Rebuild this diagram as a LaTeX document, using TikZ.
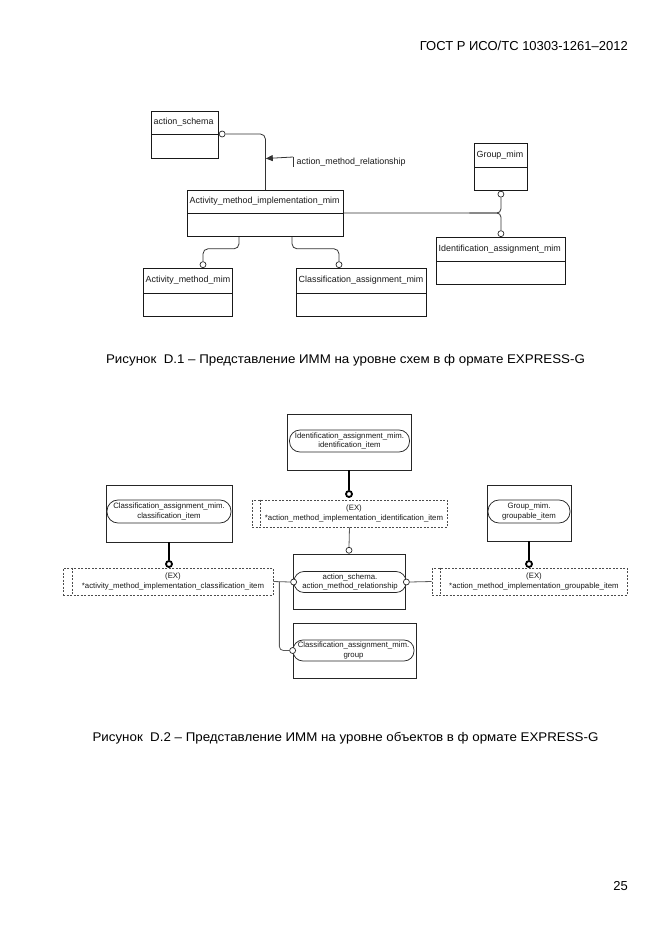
\documentclass[tikz,border=0pt]{standalone}
\usepackage{fontspec}
\usepackage{graphicx}
\setmainfont{Liberation Sans}
\usetikzlibrary{arrows.meta,calc}
\newcommand\fsA{\fontsize{8.9}{10.5}\selectfont}
\newcommand\fsB{\fontsize{7.8}{9.6}\selectfont}
\newcommand\fsC{\fontsize{12.6}{15}\selectfont}
\tikzset{
  entst/.style={draw=black!90, line width=0.8pt, inner sep=0pt, fill=white},
  divst/.style={draw=black!90, line width=0.7pt},
  enttext/.style={font=\fsA, inner sep=0pt, text=black!90},
  conn/.style={draw=black!80, line width=0.8pt},
  ocirc/.style={circle, draw=black!85, line width=0.7pt, fill=white, inner sep=0pt, minimum size=6pt},
  obox/.style={draw=black!85, line width=0.75pt, inner sep=0pt},
  oval/.style={draw=black!85, line width=0.75pt, rounded corners=10.5pt, minimum height=22pt, inner sep=0pt, align=center, font=\fsB, fill=white, text=black!90},
  tline/.style={draw=black, line width=2.2pt},
  tcirc/.style={circle, draw=black, line width=1.8pt, fill=white, inner sep=0pt, minimum size=6pt},
  dbox/.style={draw=black!70, line width=0.7pt, dash pattern=on 2pt off 1.5pt, inner sep=0pt},
  dline/.style={draw=black!70, line width=0.7pt, dash pattern=on 2pt off 1.5pt},
  dtext/.style={font=\fsB, align=center, inner sep=0pt, text=black!90},
  gline/.style={draw=black!65, line width=0.8pt},
  capt/.style={font=\fsC, inner sep=0pt},
}
\newcommand\entbox[7]{%
  \node[entst, minimum width=#4pt, minimum height=#5pt, anchor=north west] (#1) at (#2,#3) {};
  \coordinate (#1dw) at ([yshift=-#6pt]#1.north west);
  \coordinate (#1de) at ([yshift=-#6pt]#1.north east);
  \draw[divst] (#1dw) -- (#1de);
  \node[enttext, anchor=west] (#1t) at ($(#1.north west)!0.5!(#1dw)+(2.5,0)$) {#7};
}
\begin{document}
\begin{tikzpicture}[x=1pt,y=-1pt]
\useasboundingbox (0,0) rectangle (661,935);
% header
\node[anchor=east, inner sep=0pt, font=\fontsize{13}{15}\selectfont] (hdr) at (628,46) {ГОСТ Р ИСО/ТС 10303-1261–2012};
% ---------- Figure D.1 ----------
\entbox{as}{151}{111}{67}{47}{23}{action\_schema}
\entbox{amim}{187}{190}{156}{46}{23}{Activity\_method\_implementation\_mim}
\entbox{gm}{474}{143}{53}{47}{24}{Group\_mim}
\entbox{iam}{436}{237}{129}{47}{24}{Identification\_assignment\_mim}
\entbox{am}{143}{268}{89}{48}{25}{Activity\_method\_mim}
\entbox{cam}{296}{268}{130}{48}{25}{Classification\_assignment\_mim}
\node[ocirc, anchor=west] (c1) at (as.east |- asdw) {};
\node[ocirc, anchor=north] (c2) at (gm.south) {};
\node[ocirc, anchor=south] (c3) at (iam.north) {};
\node[ocirc, anchor=south] (c4) at ([xshift=60pt]am.north west) {};
\node[ocirc, anchor=south] (c5) at ([xshift=43pt]cam.north west) {};
\draw[conn, rounded corners=5pt] (c1.east) -| (amim.north);
\draw[conn, rounded corners=4pt] (amimde) -| (c3.north);
\coordinate (jn1) at ($(amimde)!0.8!(c3.north |- amimde)$);
\draw[conn, rounded corners=4pt] (c2.south) |- (jn1);
\draw[conn, rounded corners=5pt] ([xshift=52pt]amim.south west) -- ++(0,12) -| (c4.north);
\draw[conn, rounded corners=5pt] ([xshift=105pt]amim.south west) -- ++(0,12) -| (c5.north);
\coordinate (arS) at (293,157);
\coordinate (arT) at (265.8,158.5);
\draw[conn, -{Triangle[length=7pt,width=6pt]}] (arS) -- (arT);
\coordinate (tk1) at (293,156.5);
\coordinate (tk2) at (293,167);
\draw[conn] (tk1) -- (tk2);
\node[enttext, anchor=west] (arl) at (296.5,162) {action\_method\_relationship};
\node[capt] (cap1) at (345.5,360) {\scalebox{1.058}[1]{Рисунок\ \ D.1 – Представление ИММ на уровне схем в ф ормате EXPRESS-G}};
% ---------- Figure D.2 ----------
% top
\node[obox, minimum width=124pt, minimum height=56pt] (ti) at (349,442) {};
\node[oval, minimum width=120pt] (tio) at (349.5,441) {Identification\_assignment\_mim.\\identification\_item};
\node[tcirc] (c6) at (349,494) {};
\draw[tline] (ti.south) -- (c6.north);
\node[dbox, minimum width=195pt, minimum height=27pt] (d1) at (349.5,513.5) {};
\draw[dline] ([xshift=9pt]d1.north west) -- ([xshift=9pt]d1.south west);
\node[dtext] (d1t) at ([xshift=4.5pt]d1.center) {(EX)\\*action\_method\_implementation\_identification\_item};
% middle
\node[obox, minimum width=112pt, minimum height=55pt] (mi) at (349,581.5) {};
\node[oval, minimum width=112pt, minimum height=21pt, rounded corners=10pt] (mio) at (350,582) {action\_schema.\\action\_method\_relationship};
\node[ocirc, anchor=south] (c7) at (mi.north) {};
\draw[gline] (d1.south) -- (c7.north);
\node[ocirc] (cL) at (mio.west) {};
\node[ocirc] (cR) at (mio.east) {};
% bottom
\node[obox, minimum width=123pt, minimum height=55pt] (bo) at (354.5,650.5) {};
\node[oval, minimum width=121pt, minimum height=21pt, rounded corners=10pt] (boo) at (353.5,650.5) {Classification\_assignment\_mim.\\group};
\node[ocirc] (cB) at (boo.west) {};
% left
\node[obox, minimum width=126pt, minimum height=57pt] (cl) at (169,513.5) {};
\node[oval, minimum width=124pt, minimum height=23pt, rounded corners=11pt] (clo) at (169,511.5) {Classification\_assignment\_mim.\\classification\_item};
\node[tcirc] (c8) at (169,564) {};
\draw[tline] (cl.south) -- (c8.north);
\node[dbox, minimum width=210pt, minimum height=27pt] (d2) at (168,581.5) {};
\draw[dline] ([xshift=10pt]d2.north west) -- ([xshift=10pt]d2.south west);
\node[dtext] (d2t) at ([xshift=5pt]d2.center) {(EX)\\*activity\_method\_implementation\_classification\_item};
% right
\node[obox, minimum width=84pt, minimum height=56pt] (gr) at (529,513) {};
\node[oval, minimum width=82pt, minimum height=23pt, rounded corners=11pt] (gro) at (529,511.5) {Group\_mim.\\groupable\_item};
\node[tcirc] (c9) at (529,564) {};
\draw[tline] (gr.south) -- (c9.north);
\node[dbox, minimum width=195pt, minimum height=27pt] (d3) at (529.5,581.5) {};
\draw[dline] ([xshift=9pt]d3.north west) -- ([xshift=9pt]d3.south west);
\node[dtext] (d3t) at ([xshift=4.5pt]d3.center) {(EX)\\*action\_method\_implementation\_groupable\_item};
% connectors
\draw[gline] (d2.east) -- (cL.west);
\coordinate (jn2) at ([xshift=6pt]d2.east);
\draw[gline, rounded corners=4pt] (jn2) |- (cB.west);
\draw[gline] (cR.east) -- (d3.west);
\node[capt] (cap2) at (345.5,738) {\scalebox{1.058}[1]{Рисунок\ \ D.2 – Представление ИММ на уровне объектов в ф ормате EXPRESS-G}};
% page number
\node[anchor=east, inner sep=0pt, font=\fontsize{13}{15}\selectfont] (pg) at (628,886) {25};
\end{tikzpicture}
\end{document}
